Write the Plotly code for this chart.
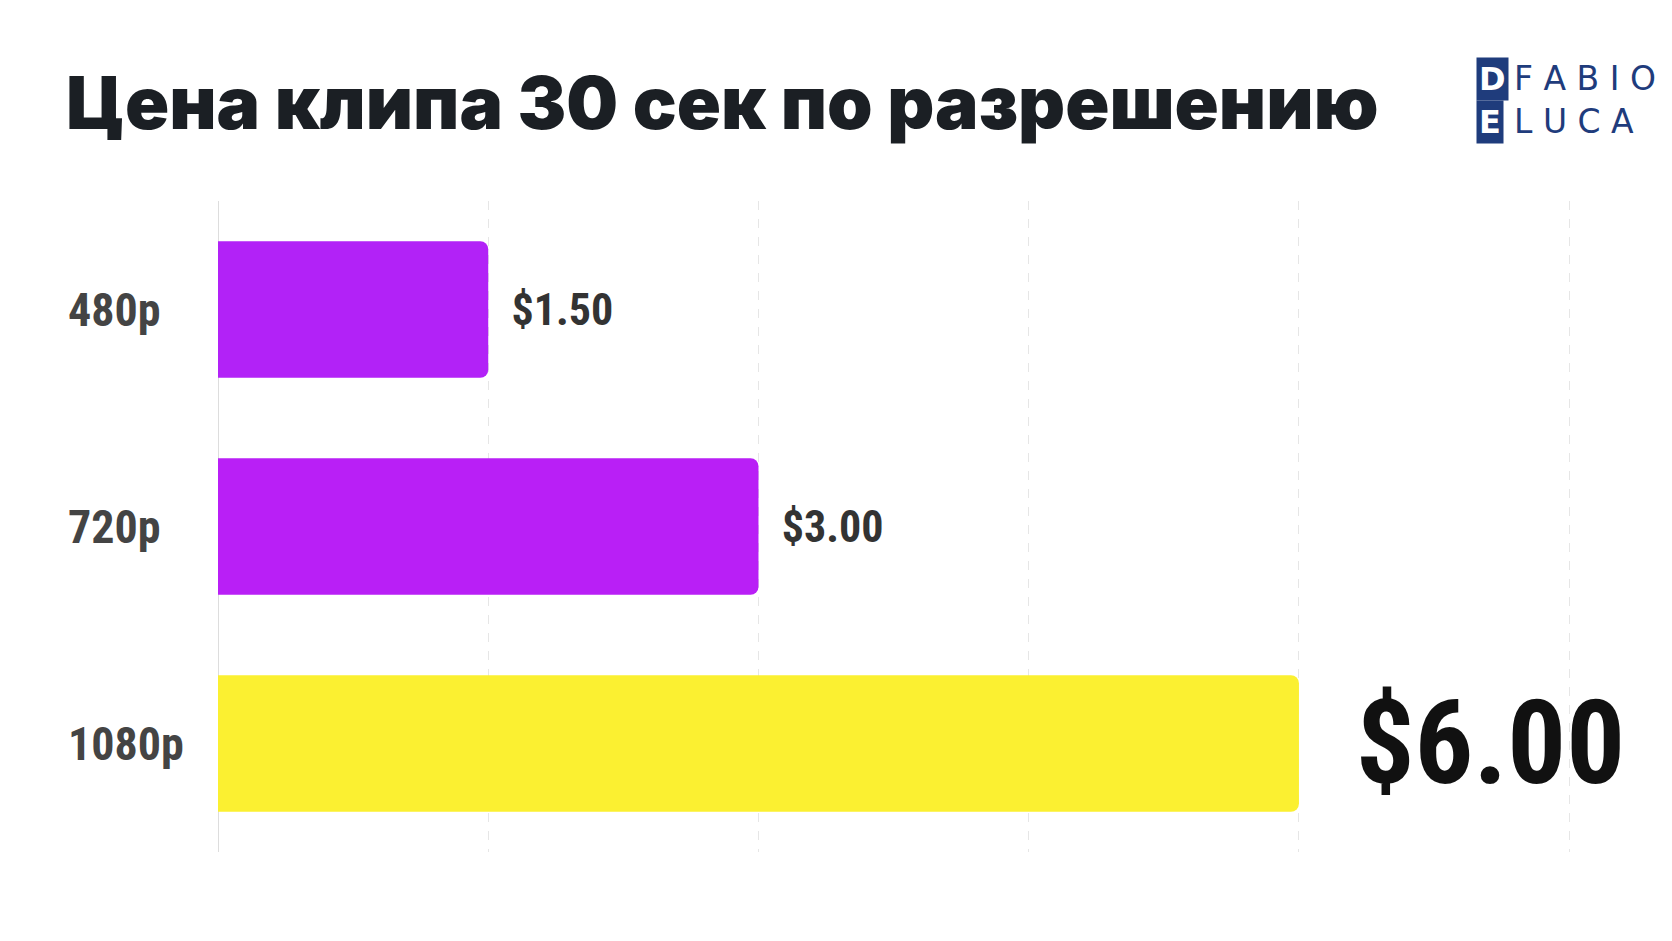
import plotly.graph_objects as go

categories = ["480p", "720p", "1080p"]
values = [1.5, 3.0, 6.0]
labels = ["$1.50", "$3.00", "$6.00"]
colors = ["#b222f7", "#b91ff6", "#fbf031"]
label_sizes = [44, 44, 150]
label_colors = ["#333333", "#333333", "#111111"]

L, R, T, B = 218 - 8, 100, 200 - 7, 91 + 6
W, H = 1672, 941
PW, PH = W - L - R, H - T - B
def px(x): return (x - L) / PW
def py(y): return 1 + (T - y) / PH

FONT = "Liberation Sans Narrow, Arial Narrow, Roboto Condensed, sans-serif"
fig = go.Figure(go.Bar(
    y=categories, x=values, orientation="h",
    marker=dict(color=colors, line=dict(width=0)),
    text=["  " + l for l in labels], textposition="outside", cliponaxis=False,
    textfont=dict(family=FONT, size=label_sizes, color=label_colors, weight="bold"),
    width=0.63,
))
fig.update_layout(
    width=W, height=H, plot_bgcolor="white", paper_bgcolor="white",
    margin=dict(l=L, r=R, t=T, b=B),
    barcornerradius=8, showlegend=False,
    title=dict(text="Цена клипа 30 сек по разрешению", x=58/W, xanchor="left", y=1 - 95/H, yanchor="middle",
               font=dict(family="Inter, Roboto, sans-serif", size=73, color="#1b1f24", weight=900)),
)
fig.update_xaxes(range=[0, 7.56], dtick=1.5, tick0=0, showticklabels=False, showgrid=True,
                 gridcolor="#e6e6e6", griddash="dash", zeroline=True, zerolinecolor="#dddddd", zerolinewidth=1)
fig.update_yaxes(autorange="reversed", showticklabels=False)
for c in categories:
    fig.add_annotation(x=0, xref="paper", xshift=-(L - 58), y=c, yref="y", text="<b>" + c + "</b>", showarrow=False,
                       xanchor="left", font=dict(family=FONT, size=46, color="#444444"))
logo_col = "#1f3c7c"
for letter, rest, ycen in [("D", "F A B I O", 49), ("E", "L U C A", 92)]:
    fig.add_annotation(xref="paper", yref="paper", x=px(1468), y=py(ycen), xanchor="left", text="<b>" + letter + "</b>",
                       showarrow=False, bgcolor=logo_col, borderpad=2,
                       font=dict(family="DejaVu Sans", size=32, color="white"))
    fig.add_annotation(xref="paper", yref="paper", x=px(1504), y=py(ycen), text=rest,
                       xanchor="left", showarrow=False, font=dict(family="DejaVu Sans", size=33, color=logo_col))
fig.write_html("out.html")
